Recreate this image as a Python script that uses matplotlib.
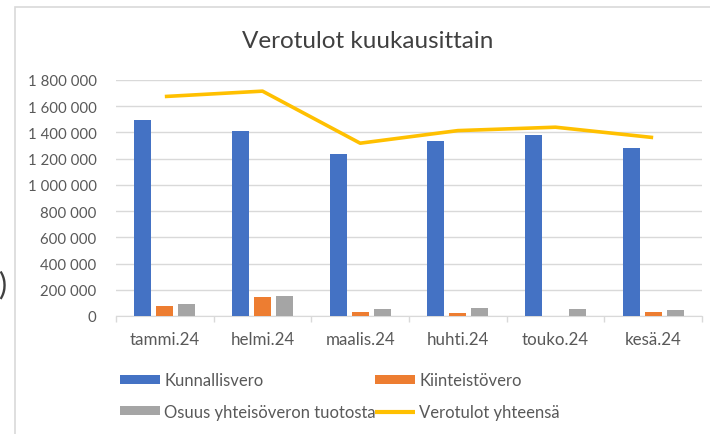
import numpy as np
import matplotlib
matplotlib.use('Agg')
import matplotlib.pyplot as plt
from matplotlib.patches import Rectangle
from matplotlib.ticker import FuncFormatter, FixedLocator

plt.rcParams['font.family'] = ['Lato', 'DejaVu Sans']

months = ['tammi.24', 'helmi.24', 'maalis.24', 'huhti.24', 'touko.24', 'kesä.24']
kunnallisvero = [1496000, 1410000, 1234000, 1336000, 1379000, 1285000]
kiinteistovero = [79000, 145000, 28000, 20000, 0, 28000]
yhteisovero = [94000, 153000, 51000, 59000, 51000, 43000]
yhteensa = [1674000, 1715000, 1318000, 1414000, 1440000, 1361000]

blue = '#4472C4'
orange = '#ED7D31'
gray = '#A5A5A5'
yellow = '#FFC000'
txt = '#595959'
grid = '#D9D9D9'

fig = plt.figure(figsize=(7.1, 4.35), dpi=100)
ax = fig.add_axes([116/710, 1-317/435, (702-116)/710, (317-81)/435])

x = np.arange(len(months))
w = 0.175
step = 0.225
b1 = ax.bar(x - step, kunnallisvero, w, color=blue, label='Kunnallisvero', zorder=3)
b2 = ax.bar(x, kiinteistovero, w, color=orange, label='Kiinteistövero', zorder=3)
b3 = ax.bar(x + step, yhteisovero, w, color=gray, label='Osuus yhteisöveron tuotosta', zorder=3)
ln, = ax.plot(x, yhteensa, color=yellow, lw=2.6, label='Verotulot yhteensä', zorder=4,
              solid_capstyle='butt')

ax.set_xlim(-0.5, len(months) - 0.5)
ax.set_ylim(0, 1800000)
ax.set_yticks(np.arange(0, 1800001, 200000))
ax.yaxis.set_major_formatter(FuncFormatter(lambda v, p: f'{int(v):,}'.replace(',', ' ')))
ax.set_xticks(x)
ax.set_xticklabels(months)
ax.xaxis.set_minor_locator(FixedLocator(np.arange(-0.5, len(months), 1.0)))
ax.tick_params(axis='x', which='major', length=0, pad=11, labelsize=12.2, labelcolor=txt)
ax.tick_params(axis='x', which='minor', length=4, color=grid, width=1)
ax.tick_params(axis='y', length=0, pad=14, labelsize=10.8, labelcolor=txt)
ax.grid(axis='y', color=grid, lw=1, zorder=0)
for s in ['top', 'right', 'left']:
    ax.spines[s].set_visible(False)
ax.spines['bottom'].set_color(grid)

fig.text(368/710, 1-42/435, 'Verotulot kuukausittain', fontsize=17.5, color='#404040',
         ha='center', va='center')

leg_kw = dict(loc='upper left', frameon=False, fontsize=12, labelcolor=txt,
              handlelength=2.4, handleheight=0.45, handletextpad=0.25,
              labelspacing=0.95, borderpad=0, borderaxespad=0)
leg1 = fig.legend([b1, b3], ['Kunnallisvero', 'Osuus yhteisöveron tuotosta'],
                  bbox_to_anchor=(120/710, 1-373/435), **leg_kw)
leg2 = fig.legend([b2, ln], ['Kiinteistövero', 'Verotulot yhteensä'],
                  bbox_to_anchor=(375/710, 1-373/435), **leg_kw)
for lh in leg2.get_lines():
    lh.set_linewidth(3)

fig.patches.append(Rectangle((15/710, -0.1), 1.0, 1-8/435+0.1, transform=fig.transFigure,
                             fill=False, edgecolor=grid, lw=1.2))
fig.text(6/710, 1-285/435, ')', fontsize=22, color='#404040', ha='right', va='center')

fig.savefig('out.png', dpi=100)
